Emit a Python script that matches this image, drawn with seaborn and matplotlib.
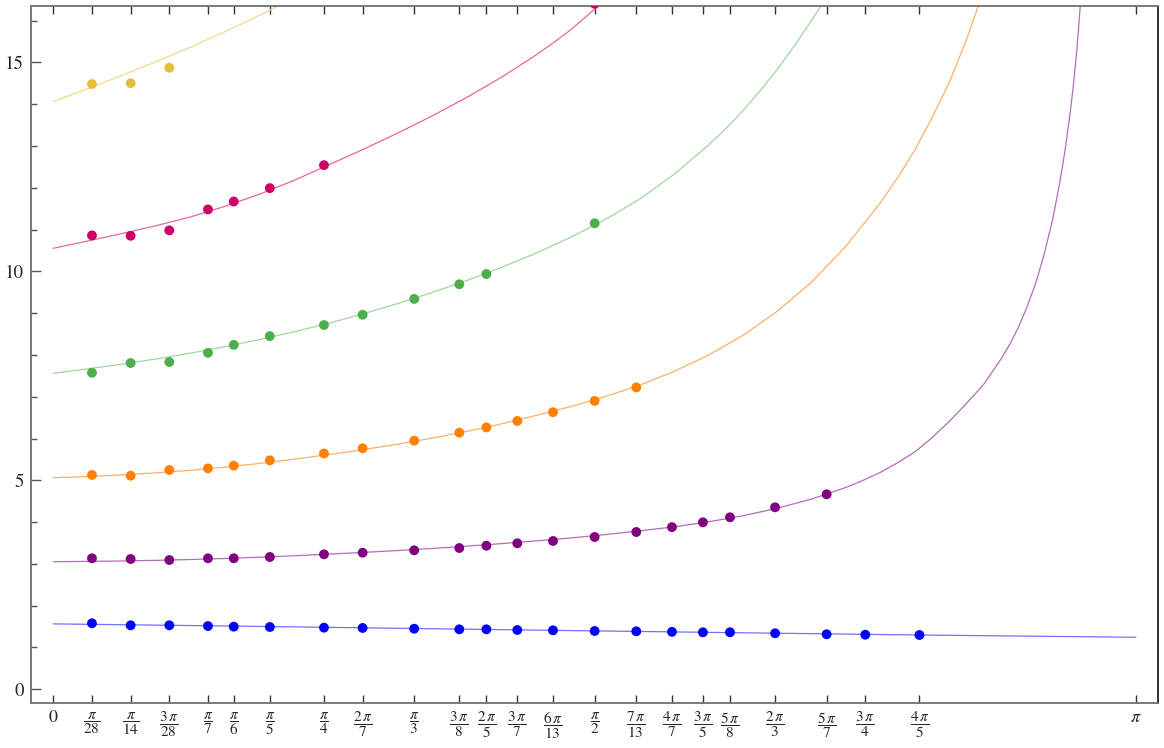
import numpy as np
import pandas as pd
import matplotlib
matplotlib.use("Agg")
import matplotlib.pyplot as plt
import seaborn as sns

PI = np.pi

# ---------------- tick positions (fractions of pi) ----------------
tick_num = [0, 1, 1, 3, 1, 1, 1, 1, 2, 1, 3, 2, 3, 6, 1, 7, 4, 3, 5, 2, 5, 3, 4, 1]
tick_den = [1, 28, 14, 28, 7, 6, 5, 4, 7, 3, 8, 5, 7, 13, 2, 13, 7, 5, 8, 3, 7, 4, 5, 1]

# ---------------- dots: tick index of x, and values ----------------
blue_idx = list(range(1, 23))
blue_dots = [1.579, 1.531, 1.531, 1.514, 1.498, 1.490, 1.474, 1.467, 1.450, 1.435, 1.435,
             1.419, 1.411, 1.395, 1.388, 1.375, 1.364, 1.364, 1.340, 1.316, 1.306, 1.299]

purple_idx = list(range(1, 21))
purple_dots = [3.134, 3.117, 3.093, 3.134, 3.134, 3.165, 3.230, 3.268, 3.325, 3.380,
               3.435, 3.493, 3.548, 3.644, 3.763, 3.879, 3.995, 4.115, 4.354, 4.665]

orange_idx = list(range(1, 16))
orange_dots = [5.127, 5.110, 5.246, 5.286, 5.350, 5.478, 5.642, 5.766, 5.948, 6.140,
               6.265, 6.420, 6.630, 6.900, 7.222]

green_idx = [1, 2, 3, 4, 5, 6, 7, 8, 9, 10, 11, 14]
green_dots = [7.574, 7.806, 7.830, 8.05, 8.24, 8.45, 8.715, 8.96, 9.34, 9.69, 9.935, 11.15]

red_idx = [1, 2, 3, 4, 5, 6, 7, 14]
red_dots = [10.86, 10.85, 10.98, 11.48, 11.67, 11.99, 12.54, 16.40]

yellow_idx = [1, 2, 3]
yellow_dots = [14.48, 14.50, 14.87]

# ---------------- curves ----------------
blue_cx = [0, 0.5, 1.0, 1.5, 2.0, 2.5, PI]
blue_cy = [1.565, 1.515, 1.46, 1.405, 1.352, 1.30, 1.245]

purple_cx = [0, 0.1, 0.2, 0.3, 0.4, 0.5, 0.6, 0.7, 0.8, 0.9, 1.0, 1.1, 1.2, 1.3, 1.4,
             1.5, 1.6, 1.7, 1.8, 1.9, 2.0, 2.1, 2.2, 2.3, 2.35, 2.4, 2.45, 2.5, 2.55,
             2.6, 2.65, 2.7, 2.75, 2.775, 2.8, 2.825, 2.85, 2.875, 2.9, 2.92, 2.935,
             2.95, 2.96, 2.97, 2.98, 2.99]
purple_cy = [3.053, 3.06, 3.07, 3.085, 3.105, 3.13, 3.16, 3.195, 3.235, 3.275, 3.32, 3.37,
             3.425, 3.485, 3.55, 3.62, 3.70, 3.79, 3.885, 4.005, 4.15, 4.33, 4.55, 4.83,
             5.00, 5.19, 5.42, 5.68, 6.02, 6.41, 6.84, 7.30, 7.90, 8.25, 8.65, 9.14, 9.70,
             10.40, 11.25, 12.10, 12.85, 13.75, 14.45, 15.30, 16.35, 17.6]

orange_cx = [0, 0.1, 0.2, 0.3, 0.4, 0.5, 0.6, 0.7, 0.8, 0.9, 1.0, 1.1, 1.2, 1.3, 1.4,
             1.5, 1.6, 1.7, 1.8, 1.9, 2.0, 2.1, 2.2, 2.3, 2.4, 2.45, 2.5, 2.55, 2.6,
             2.65, 2.7, 2.75]
orange_cy = [5.06, 5.09, 5.13, 5.18, 5.24, 5.315, 5.405, 5.505, 5.615, 5.735, 5.865, 6.01,
             6.17, 6.35, 6.55, 6.76, 7.00, 7.27, 7.60, 7.99, 8.46, 9.04, 9.74, 10.60,
             11.64, 12.24, 12.90, 13.68, 14.52, 15.55, 16.72, 18.0]

green_cx = [0, 0.1, 0.2, 0.3, 0.4, 0.5, 0.6, 0.7, 0.8, 0.9, 1.0, 1.1, 1.2, 1.3, 1.4,
            1.5, 1.6, 1.7, 1.8, 1.9, 1.95, 2.0, 2.05, 2.1, 2.15, 2.2, 2.25]
green_cy = [7.56, 7.665, 7.78, 7.905, 8.045, 8.20, 8.37, 8.555, 8.76, 8.985, 9.23, 9.495,
            9.78, 10.09, 10.43, 10.81, 11.23, 11.72, 12.31, 13.01, 13.40, 13.83, 14.31,
            14.82, 15.39, 16.00, 16.65]

red_cx = [0, 0.1, 0.2, 0.3, 0.4, 0.5, 0.6, 0.7, 0.8, 0.9, 1.0, 1.1, 1.2, 1.3, 1.4,
          1.45, 1.5, 1.55, 1.6, 1.65]
red_cy = [10.55, 10.725, 10.905, 11.095, 11.305, 11.56, 11.85, 12.18, 12.55, 12.92, 13.31,
          13.72, 14.16, 14.64, 15.17, 15.46, 15.77, 16.12, 16.49, 16.9]

yellow_cx = [0, 0.1, 0.2, 0.3, 0.4, 0.5, 0.6, 0.7]
yellow_cy = [14.06, 14.37, 14.69, 15.02, 15.37, 15.74, 16.13, 16.54]

series = ["blue", "purple", "orange", "green", "red", "yellow"]
dot_colors = {"blue": "#0000ff", "purple": "#800080", "orange": "#ff8000",
              "green": "#4caf4c", "red": "#cc0066", "yellow": "#e6be3c"}
line_colors = {"blue": "#7070ff", "purple": "#b46cbc", "orange": "#ffb066",
               "green": "#a0d6a0", "red": "#e8669f", "yellow": "#f2d88c"}

# ---------------- build tables ----------------
tick_vals = [n * PI / d for n, d in zip(tick_num, tick_den)]
dot_src = {"blue": (blue_idx, blue_dots), "purple": (purple_idx, purple_dots),
           "orange": (orange_idx, orange_dots), "green": (green_idx, green_dots),
           "red": (red_idx, red_dots), "yellow": (yellow_idx, yellow_dots)}
curve_src = {"blue": (blue_cx, blue_cy), "purple": (purple_cx, purple_cy),
             "orange": (orange_cx, orange_cy), "green": (green_cx, green_cy),
             "red": (red_cx, red_cy), "yellow": (yellow_cx, yellow_cy)}

dots = pd.concat([pd.DataFrame({"x": [tick_vals[i] for i in idx], "y": vals, "series": s})
                  for s, (idx, vals) in dot_src.items()], ignore_index=True)
curves = pd.concat([pd.DataFrame({"x": cx, "y": cy, "series": s})
                    for s, (cx, cy) in curve_src.items()], ignore_index=True)

# ---------------- plot ----------------
sns.set_style("white")
plt.rcParams["mathtext.fontset"] = "stix"
plt.rcParams["font.family"] = ["STIXGeneral", "DejaVu Serif"]

W, H = 1164, 748
fig = plt.figure(figsize=(W / 100, H / 100), dpi=100)
ax = fig.add_axes([31 / W, 1 - 703.3 / H, (1158 - 31) / W, (703.3 - 6.3) / H])

sns.lineplot(data=curves, x="x", y="y", hue="series", palette=line_colors,
             hue_order=series, sort=False, estimator=None, linewidth=0.9,
             legend=False, ax=ax, zorder=2)
sns.scatterplot(data=dots, x="x", y="y", hue="series", palette=dot_colors,
                hue_order=series, s=50, edgecolor="none", linewidth=0,
                legend=False, ax=ax, zorder=3)

ax.set_xlim(-0.0647, 3.2055)
ax.set_ylim(-0.335, 16.34)
ax.set_xlabel("")
ax.set_ylabel("")

# x ticks
def frac_label(n, d):
    if n == 0:
        return "$0$"
    if d == 1:
        return r"$\pi$"
    num = r"\pi" if n == 1 else r"%d\,\pi" % n
    return r"$\dfrac{%s}{%d}$" % (num, d)

ax.set_xticks(tick_vals)
ax.set_xticklabels([frac_label(n, d) for n, d in zip(tick_num, tick_den)], fontsize=11)
for lab, n, d in zip(ax.get_xticklabels(), tick_num, tick_den):
    if n == 0 or d == 1:
        lab.set_fontsize(13)
ax.tick_params(axis="x", direction="in", length=6, width=1.0, color="#333333",
               top=True, bottom=True, labeltop=False, pad=5)

# y ticks
ax.set_yticks([0, 5, 10, 15])
ax.set_yticklabels(["0", "5", "10", "15"], fontsize=13.5)
ax.set_yticks(np.arange(0, 17, 1), minor=True)
ax.tick_params(axis="y", which="major", direction="in", length=7, width=1.0,
               color="#555555", left=True, right=False, pad=5)
ax.tick_params(axis="y", which="minor", direction="in", length=4, width=1.0,
               color="#555555", left=True, right=False)

for side in ["left", "bottom", "top"]:
    ax.spines[side].set_color("#707070")
    ax.spines[side].set_linewidth(1.3)
ax.spines["right"].set_color("#222222")
ax.spines["right"].set_linewidth(1.3)

fig.savefig("out.png", dpi=100)
